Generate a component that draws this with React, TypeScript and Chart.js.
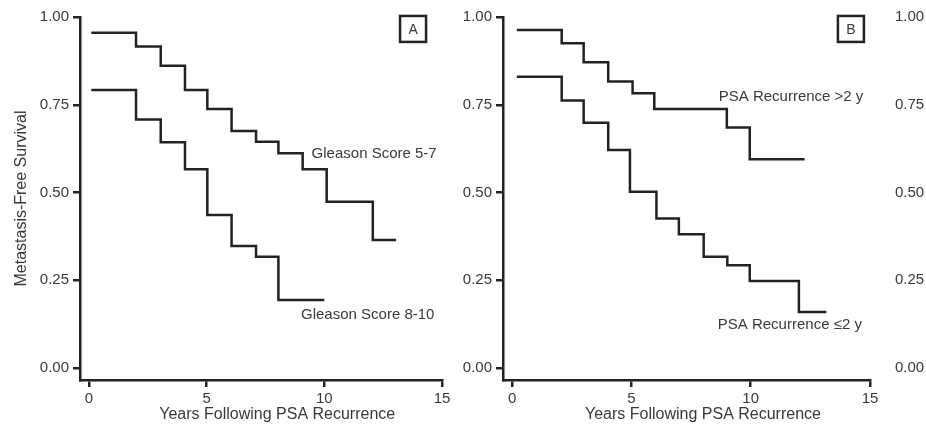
import React, { useEffect, useRef } from "react";
import { Chart, registerables } from "chart.js";

Chart.register(...registerables);

// ---------- data ----------
const xTicks = [0, 5, 10, 15];
const yTicks = [0, 0.25, 0.5, 0.75, 1.0];

const gleason57Years = [0.1, 2, 3.05, 4.08, 5.03, 6.06, 7.1, 8.05, 9.08, 10.1, 12.06, 13.05];
const gleason57Surv = [0.955, 0.916, 0.861, 0.792, 0.738, 0.675, 0.645, 0.612, 0.566, 0.474, 0.365, 0.365];
const gleason810Years = [0.1, 2, 3.05, 4.08, 5.03, 6.06, 7.1, 8.05, 10.0];
const gleason810Surv = [0.792, 0.708, 0.643, 0.566, 0.436, 0.348, 0.317, 0.194, 0.194];

const psaLateYears = [0.2, 2.08, 3.0, 4.03, 5.05, 5.96, 9.0, 9.96, 12.26];
const psaLateSurv = [0.963, 0.925, 0.871, 0.816, 0.783, 0.738, 0.685, 0.595, 0.595];
const psaEarlyYears = [0.2, 2.08, 3.0, 4.03, 4.94, 6.05, 6.99, 8.03, 9.02, 9.96, 12.02, 13.17];
const psaEarlySurv = [0.83, 0.762, 0.699, 0.621, 0.502, 0.426, 0.381, 0.317, 0.293, 0.248, 0.16, 0.16];

const xTitle = "Years Following PSA Recurrence";
const yTitle = "Metastasis-Free Survival";
const seriesLabelsA = ["Gleason Score 5-7", "Gleason Score 8-10"];
const seriesLabelsB = ["PSA Recurrence >2 y", "PSA Recurrence \u22642 y"];
const panelNames = ["A", "B"];

// label anchors in data units (years, survival)
const labelAnchorsA = [[9.46, 0.61], [9.01, 0.151]];
const labelAnchorsB = [[8.66, 0.772], [8.62, 0.1225]];
const boxAnchorA = [13.77, 0.966];
const boxAnchorB = [14.2, 0.966];
const xTitleCenterYear = 8;

// ---------- styles ----------
const FONT = "'Liberation Sans', Arial, Helvetica, sans-serif";
const INK = "#222222";
const TEXT = "#383840";
const X_MIN = -0.38;
const Y_MIN = -0.034;

function toPoints(xs: number[], ys: number[]) {
  return xs.map((x, i) => ({ x, y: ys[i] }));
}

const annotationPlugin = {
  id: "kmAnnotations",
  afterDatasetsDraw(chart: any, _args: any, opts: any) {
    const { ctx, scales } = chart;
    const xs = scales.x;
    const ys = scales.y;
    ctx.save();
    ctx.fillStyle = TEXT;
    ctx.font = `15px ${FONT}`;
    ctx.textBaseline = "middle";
    ctx.textAlign = "left";
    (opts.labels || []).forEach((l: any) => {
      ctx.fillText(l.text, xs.getPixelForValue(l.at[0]), ys.getPixelForValue(l.at[1]));
    });
    if (opts.box) {
      const cx = xs.getPixelForValue(opts.box.at[0]);
      const cy = ys.getPixelForValue(opts.box.at[1]);
      ctx.strokeStyle = INK;
      ctx.lineWidth = 2.5;
      ctx.strokeRect(cx - 13, cy - 13, 26, 26);
      ctx.textAlign = "center";
      ctx.font = `14px ${FONT}`;
      ctx.fillText(opts.box.text, cx, cy + 1);
    }
    if (opts.xTitle) {
      ctx.textAlign = "center";
      ctx.font = `16px ${FONT}`;
      ctx.fillText(opts.xTitle, xs.getPixelForValue(xTitleCenterYear), chart.height - 11);
    }
    ctx.restore();
  },
};

function makeConfig(
  series: { xs: number[]; ys: number[]; label: string }[],
  yAxisWidth: number,
  padRight: number,
  showYTitle: boolean,
  labels: any[],
  box: any
) {
  return {
    type: "line",
    data: {
      datasets: series.map((s) => ({
        label: s.label,
        data: toPoints(s.xs, s.ys),
        stepped: "before",
        borderColor: INK,
        borderWidth: 2.5,
        pointRadius: 0,
        fill: false,
      })),
    },
    options: {
      responsive: false,
      animation: false,
      layout: { padding: { top: 17, right: padRight, left: 0, bottom: 0 } },
      plugins: {
        legend: { display: false },
        tooltip: { enabled: false },
        kmAnnotations: { labels, box, xTitle },
      },
      scales: {
        x: {
          type: "linear",
          min: X_MIN,
          max: 15,
          afterBuildTicks: (scale: any) => {
            scale.ticks = xTicks.map((v) => ({ value: v }));
          },
          afterFit: (scale: any) => {
            scale.height = 46;
          },
          ticks: {
            autoSkip: false,
            maxRotation: 0,
            padding: 3,
            color: TEXT,
            font: { family: FONT, size: 15 },
            callback: (v: any) => String(v),
          },
          grid: {
            display: true,
            drawOnChartArea: false,
            drawTicks: true,
            tickLength: 7,
            color: INK,
            lineWidth: 2.5,
          },
          border: { display: true, color: INK, width: 2.5 },
          title: { display: false },
        },
        y: {
          type: "linear",
          min: Y_MIN,
          max: 1,
          afterBuildTicks: (scale: any) => {
            scale.ticks = yTicks.map((v) => ({ value: v }));
          },
          afterFit: (scale: any) => {
            scale.width = yAxisWidth;
          },
          ticks: {
            padding: 4,
            color: TEXT,
            font: { family: FONT, size: 15 },
            callback: (v: any) => Number(v).toFixed(2),
          },
          grid: {
            display: true,
            drawOnChartArea: false,
            drawTicks: true,
            tickLength: 7,
            color: INK,
            lineWidth: 2.5,
          },
          border: { display: true, color: INK, width: 2.5 },
          title: {
            display: showYTitle,
            text: yTitle,
            color: TEXT,
            font: { family: FONT, size: 16 },
            padding: { top: 12, bottom: 0 },
          },
        },
      },
    },
    plugins: [annotationPlugin],
  };
}

const edgeAxisConfig = {
  type: "line",
  data: { datasets: [] },
  options: {
    responsive: false,
    animation: false,
    layout: { padding: { top: 17, right: 0, left: 0, bottom: 46 } },
    plugins: { legend: { display: false }, tooltip: { enabled: false } },
    scales: {
      x: { type: "linear", display: false, min: 0, max: 1 },
      y: {
        type: "linear",
        position: "left",
        min: Y_MIN,
        max: 1,
        afterBuildTicks: (scale: any) => {
          scale.ticks = yTicks.map((v) => ({ value: v }));
        },
        ticks: {
          crossAlign: "far",
          padding: 4,
          color: TEXT,
          font: { family: FONT, size: 15 },
          callback: (v: any) => Number(v).toFixed(2),
        },
        grid: { display: false },
        border: { display: false },
      },
    },
  },
};

function ChartBox({ left, width, config }: { left: number; width: number; config: any }) {
  const ref = useRef<HTMLCanvasElement | null>(null);
  useEffect(() => {
    if (!ref.current) return;
    const chart = new Chart(ref.current, config);
    return () => chart.destroy();
  }, [config]);
  return (
    <div style={{ position: "absolute", left, top: 0, width, height: 426 }}>
      <canvas ref={ref} width={width} height={426} style={{ display: "block", width, height: 426 }} />
    </div>
  );
}

const configA = makeConfig(
  [
    { xs: gleason57Years, ys: gleason57Surv, label: seriesLabelsA[0] },
    { xs: gleason810Years, ys: gleason810Surv, label: seriesLabelsA[1] },
  ],
  80,
  18,
  true,
  [
    { text: seriesLabelsA[0], at: labelAnchorsA[0] },
    { text: seriesLabelsA[1], at: labelAnchorsA[1] },
  ],
  { text: panelNames[0], at: boxAnchorA }
);

const configB = makeConfig(
  [
    { xs: psaLateYears, ys: psaLateSurv, label: seriesLabelsB[0] },
    { xs: psaEarlyYears, ys: psaEarlySurv, label: seriesLabelsB[1] },
  ],
  43,
  20,
  false,
  [
    { text: seriesLabelsB[0], at: labelAnchorsB[0] },
    { text: seriesLabelsB[1], at: labelAnchorsB[1] },
  ],
  { text: panelNames[1], at: boxAnchorB }
);

export default function App() {
  return (
    <div
      style={{
        position: "fixed",
        left: 0,
        top: 0,
        width: 926,
        height: 426,
        overflow: "hidden",
        background: "#ffffff",
      }}
    >
      <ChartBox left={0} width={460} config={configA} />
      <ChartBox left={460} width={430} config={configB} />
      <ChartBox left={895} width={80} config={edgeAxisConfig} />
    </div>
  );
}
